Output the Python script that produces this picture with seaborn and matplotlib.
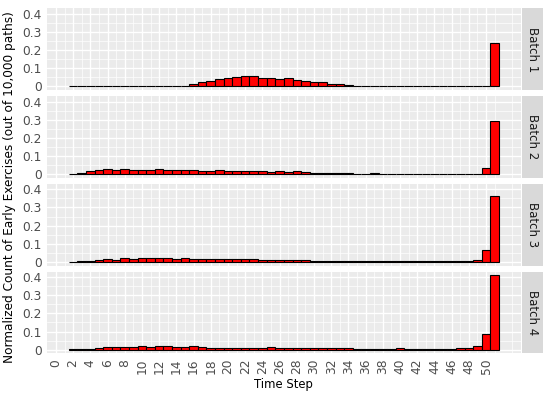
import matplotlib
matplotlib.use("Agg")
import matplotlib.pyplot as plt
import seaborn as sns
import pandas as pd
from matplotlib.patches import Rectangle

time_steps = list(range(2, 52))
batch_labels = ["Batch 1", "Batch 2", "Batch 3", "Batch 4"]

batch1 = [0, 0, 0, 0, 0, 0, 0, 0, 0,
          0.001, 0.001, 0.001, 0.002, 0.004, 0.011, 0.022, 0.031, 0.040, 0.047,
          0.053, 0.055, 0.060, 0.049, 0.049, 0.040, 0.044, 0.038, 0.031, 0.027,
          0.022, 0.015, 0.015, 0.009, 0.004, 0.002, 0.002, 0.001, 0.002, 0.002,
          0.001, 0.001, 0.001, 0.001, 0.001, 0, 0, 0, 0, 0, 0.239]
batch2 = [0.002, 0.009, 0.020, 0.024, 0.031, 0.024, 0.030, 0.024, 0.024, 0.024,
          0.028, 0.024, 0.024, 0.024, 0.022, 0.020, 0.020, 0.022, 0.017, 0.017,
          0.017, 0.017, 0.015, 0.013, 0.017, 0.013, 0.015, 0.011, 0.009, 0.006,
          0.006, 0.004, 0.004, 0.003, 0.003, 0.004, 0.003, 0.003, 0.003, 0.002,
          0.002, 0.002, 0.002, 0.002, 0.002, 0.002, 0.003, 0.002, 0.032, 0.293]
batch3 = [0.001, 0.003, 0.006, 0.013, 0.018, 0.013, 0.020, 0.017, 0.020, 0.020,
          0.020, 0.020, 0.017, 0.020, 0.017, 0.017, 0.015, 0.018, 0.015, 0.015,
          0.015, 0.018, 0.009, 0.009, 0.009, 0.009, 0.009, 0.009, 0.007, 0.007,
          0.007, 0.006, 0.006, 0.004, 0.004, 0.004, 0.004, 0.004, 0.003, 0.003,
          0.003, 0.003, 0.004, 0.004, 0.004, 0.005, 0.005, 0.011, 0.064, 0.365]
batch4 = [0.001, 0.002, 0.003, 0.009, 0.015, 0.015, 0.017, 0.017, 0.020, 0.013,
          0.018, 0.018, 0.015, 0.015, 0.018, 0.013, 0.011, 0.011, 0.011, 0.011,
          0.009, 0.009, 0.011, 0.013, 0.011, 0.009, 0.009, 0.007, 0.007, 0.007,
          0.007, 0.007, 0.008, 0.004, 0.004, 0.004, 0.004, 0.004, 0.007, 0.004,
          0.004, 0.004, 0.004, 0.004, 0.004, 0.009, 0.011, 0.018, 0.087, 0.409]

x_ticks = list(range(0, 51, 2))
y_ticks = [0, 0.1, 0.2, 0.3, 0.4]
y_tick_labels = ["0", "0.1", "0.2", "0.3", "0.4"]

sns.set_theme(style="darkgrid")
plt.rcParams["font.family"] = ["DejaVu Sans"]

fig, axes = plt.subplots(4, 1, figsize=(5.5, 3.98), dpi=100, sharex=True)
fig.subplots_adjust(left=0.086, right=0.9464, top=0.979, bottom=0.1123, hspace=0.073)

all_batches = [batch1, batch2, batch3, batch4]
for ax, vals, lab in zip(axes, all_batches, batch_labels):
    df = pd.DataFrame({"t": time_steps, "v": vals})
    sns.barplot(data=df, x="t", y="v", ax=ax, native_scale=True, width=1.0,
                color="#FF0000", saturation=1, edgecolor="black", linewidth=0.8)
    ax.set_facecolor("#EBEBEB")
    ax.set_xlim(-1.0, 54.0)
    ax.set_ylim(-0.02, 0.43)
    ax.set_xticks(x_ticks)
    ax.set_xticks([x + 1 for x in x_ticks[:-1]] + [51, 53], minor=True)
    ax.set_yticks(y_ticks)
    ax.set_yticklabels(y_tick_labels)
    ax.set_yticks([0.05, 0.15, 0.25, 0.35], minor=True)
    ax.grid(which="major", color="white", linewidth=1.0)
    ax.grid(which="minor", color="white", linewidth=0.5)
    ax.set_axisbelow(True)
    for s in ax.spines.values():
        s.set_visible(False)
    ax.tick_params(axis="both", which="major", length=2.5, width=0.7, color="#333333",
                   labelsize=8.8, labelcolor="#4D4D4D", pad=1.5)
    ax.tick_params(axis="both", which="minor", length=0)
    ax.set_xlabel("")
    ax.set_ylabel("")
    ax.add_patch(Rectangle((1.004, 0), 0.043, 1, transform=ax.transAxes,
                           facecolor="#D9D9D9", edgecolor="none", clip_on=False))
    ax.text(1.0255, 0.5, lab, transform=ax.transAxes, rotation=-90,
            ha="center", va="center", fontsize=8.5, color="#1A1A1A")

axes[-1].tick_params(axis="x", labelrotation=90)
for lbl in axes[-1].get_xticklabels():
    lbl.set_ha("center")

fig.text(0.515, 0.035, "Time Step", ha="center", va="center", fontsize=8.4, color="black")
fig.text(0.018, 0.531, "Normalized Count of Early Exercises (out of 10,000 paths)",
         rotation=90, ha="center", va="center", fontsize=8.7, color="black")

fig.savefig("out.png", dpi=100)
